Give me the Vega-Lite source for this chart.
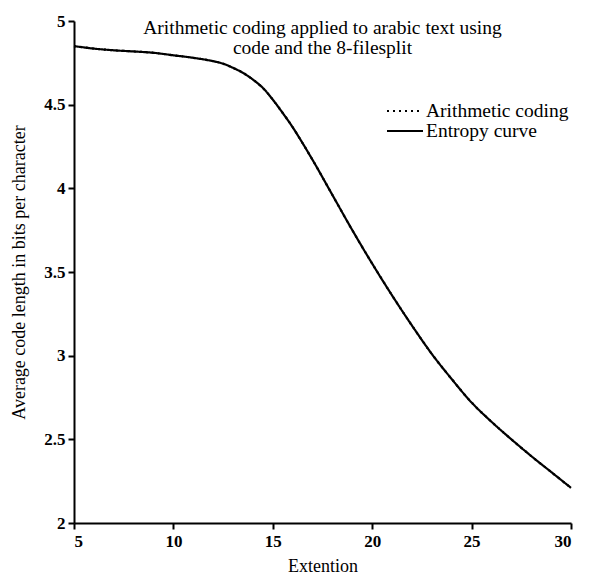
{
  "$schema": "https://vega.github.io/schema/vega-lite/v6.json",
  "autosize": {"type": "none"},
  "padding": {"left": 74, "top": 21, "right": 21, "bottom": 53},
  "width": 497,
  "height": 502,
  "background": "white",
  "config": {
    "view": {"stroke": null},
    "font": "Liberation Serif",
    "axis": {
      "grid": false,
      "domainColor": "black",
      "domainWidth": 2,
      "tickColor": "black",
      "tickWidth": 2,
      "tickSize": 6,
      "labelColor": "black",
      "labelFont": "Liberation Serif",
      "labelFontSize": 17,
      "labelFontWeight": "bold",
      "titleColor": "black",
      "titleFont": "Liberation Serif",
      "titleFontSize": 18,
      "titleFontWeight": "normal"
    }
  },
  "title": {
    "text": ["Arithmetic coding applied to arabic text using", "code and the 8-filesplit"],
    "offset": -46,
    "font": "Liberation Serif",
    "fontSize": 19.5,
    "fontWeight": "normal",
    "color": "black",
    "lineHeight": 20,
    "anchor": "middle"
  },
  "data": {
    "values": [
      {"x": 5, "y": 4.85, "s": "Arithmetic coding"},
      {"x": 6, "y": 4.835, "s": "Arithmetic coding"},
      {"x": 7, "y": 4.825, "s": "Arithmetic coding"},
      {"x": 8, "y": 4.818, "s": "Arithmetic coding"},
      {"x": 9, "y": 4.81, "s": "Arithmetic coding"},
      {"x": 10, "y": 4.795, "s": "Arithmetic coding"},
      {"x": 11, "y": 4.78, "s": "Arithmetic coding"},
      {"x": 12, "y": 4.76, "s": "Arithmetic coding"},
      {"x": 12.5, "y": 4.745, "s": "Arithmetic coding"},
      {"x": 13, "y": 4.72, "s": "Arithmetic coding"},
      {"x": 13.5, "y": 4.69, "s": "Arithmetic coding"},
      {"x": 14, "y": 4.65, "s": "Arithmetic coding"},
      {"x": 14.5, "y": 4.6, "s": "Arithmetic coding"},
      {"x": 15, "y": 4.53, "s": "Arithmetic coding"},
      {"x": 15.5, "y": 4.45, "s": "Arithmetic coding"},
      {"x": 16, "y": 4.365, "s": "Arithmetic coding"},
      {"x": 17, "y": 4.17, "s": "Arithmetic coding"},
      {"x": 18, "y": 3.96, "s": "Arithmetic coding"},
      {"x": 19, "y": 3.75, "s": "Arithmetic coding"},
      {"x": 20, "y": 3.55, "s": "Arithmetic coding"},
      {"x": 21, "y": 3.36, "s": "Arithmetic coding"},
      {"x": 22, "y": 3.18, "s": "Arithmetic coding"},
      {"x": 23, "y": 3.01, "s": "Arithmetic coding"},
      {"x": 24, "y": 2.86, "s": "Arithmetic coding"},
      {"x": 25, "y": 2.72, "s": "Arithmetic coding"},
      {"x": 26, "y": 2.605, "s": "Arithmetic coding"},
      {"x": 27, "y": 2.5, "s": "Arithmetic coding"},
      {"x": 28, "y": 2.4, "s": "Arithmetic coding"},
      {"x": 29, "y": 2.305, "s": "Arithmetic coding"},
      {"x": 30, "y": 2.21, "s": "Arithmetic coding"},
      {"x": 5, "y": 4.85, "s": "Entropy curve"},
      {"x": 6, "y": 4.835, "s": "Entropy curve"},
      {"x": 7, "y": 4.825, "s": "Entropy curve"},
      {"x": 8, "y": 4.818, "s": "Entropy curve"},
      {"x": 9, "y": 4.81, "s": "Entropy curve"},
      {"x": 10, "y": 4.795, "s": "Entropy curve"},
      {"x": 11, "y": 4.78, "s": "Entropy curve"},
      {"x": 12, "y": 4.76, "s": "Entropy curve"},
      {"x": 12.5, "y": 4.745, "s": "Entropy curve"},
      {"x": 13, "y": 4.72, "s": "Entropy curve"},
      {"x": 13.5, "y": 4.69, "s": "Entropy curve"},
      {"x": 14, "y": 4.65, "s": "Entropy curve"},
      {"x": 14.5, "y": 4.6, "s": "Entropy curve"},
      {"x": 15, "y": 4.53, "s": "Entropy curve"},
      {"x": 15.5, "y": 4.45, "s": "Entropy curve"},
      {"x": 16, "y": 4.365, "s": "Entropy curve"},
      {"x": 17, "y": 4.17, "s": "Entropy curve"},
      {"x": 18, "y": 3.96, "s": "Entropy curve"},
      {"x": 19, "y": 3.75, "s": "Entropy curve"},
      {"x": 20, "y": 3.55, "s": "Entropy curve"},
      {"x": 21, "y": 3.36, "s": "Entropy curve"},
      {"x": 22, "y": 3.18, "s": "Entropy curve"},
      {"x": 23, "y": 3.01, "s": "Entropy curve"},
      {"x": 24, "y": 2.86, "s": "Entropy curve"},
      {"x": 25, "y": 2.72, "s": "Entropy curve"},
      {"x": 26, "y": 2.605, "s": "Entropy curve"},
      {"x": 27, "y": 2.5, "s": "Entropy curve"},
      {"x": 28, "y": 2.4, "s": "Entropy curve"},
      {"x": 29, "y": 2.305, "s": "Entropy curve"},
      {"x": 30, "y": 2.21, "s": "Entropy curve"}
    ]
  },
  "mark": {"type": "line", "interpolate": "catmull-rom", "strokeWidth": 2.2, "color": "black"},
  "encoding": {
    "x": {
      "field": "x", "type": "quantitative",
      "scale": {"domain": [5, 30], "nice": false, "zero": false},
      "axis": {"values": [5, 10, 15, 20, 25, 30], "title": "Extention", "labelPadding": 4, "titlePadding": 8}
    },
    "y": {
      "field": "y", "type": "quantitative",
      "scale": {"domain": [2, 5], "nice": false, "zero": false},
      "axis": {"values": [2, 2.5, 3, 3.5, 4, 4.5, 5], "format": "~g", "title": "Average code length in bits per character", "labelPadding": 3, "titlePadding": 15}
    },
    "strokeDash": {
      "field": "s", "type": "nominal",
      "scale": {"domain": ["Arithmetic coding", "Entropy curve"], "range": [[2, 4], [1, 0]]},
      "legend": {
        "title": null,
        "orient": "none",
        "legendX": 321,
        "legendY": 80,
        "symbolType": "M-2,0H2",
        "symbolSize": 324,
        "symbolStrokeColor": "black",
        "symbolStrokeWidth": 2,
        "labelFont": "Liberation Serif",
        "labelFontSize": 19.5,
        "labelFontWeight": "normal",
        "labelColor": "black",
        "labelOffset": 11,
        "rowPadding": 0
      }
    },
    "order": {"field": "s", "type": "nominal"}
  }
}
